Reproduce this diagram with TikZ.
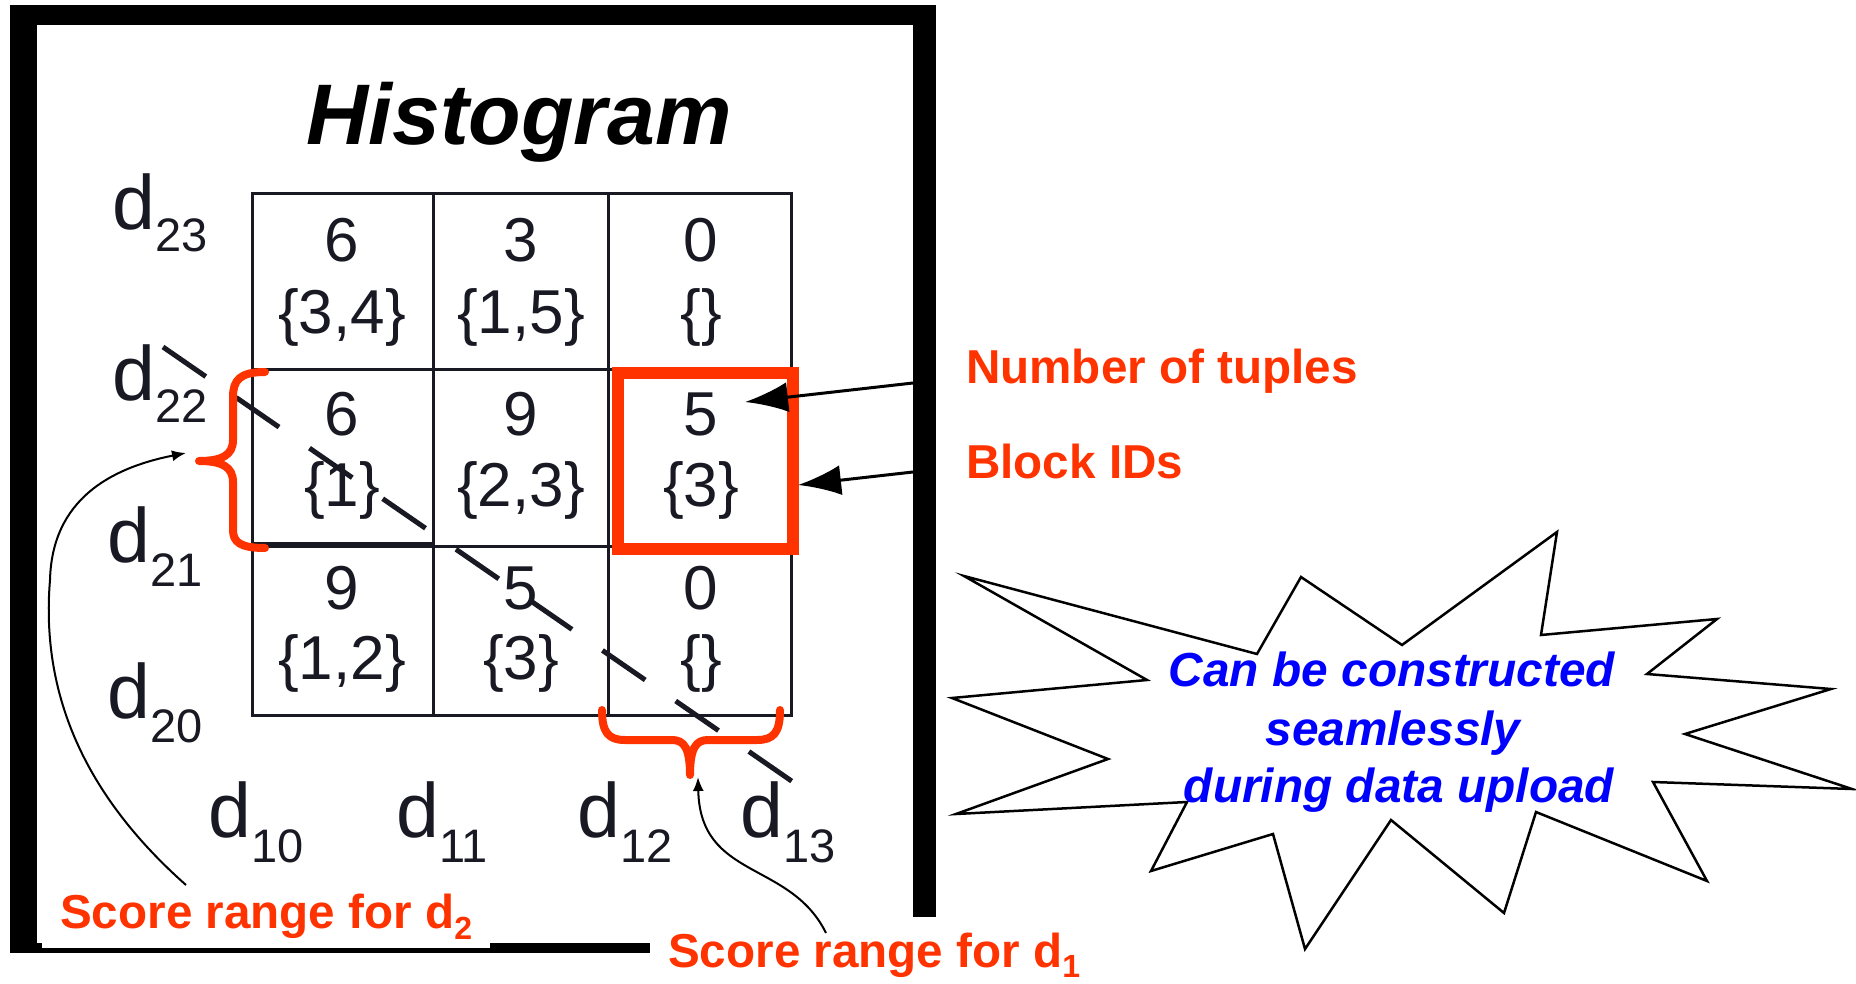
\documentclass[tikz,border=0pt]{standalone}
\usepackage{fontspec}
\setmainfont{Liberation Sans}
\usetikzlibrary{arrows.meta}
\definecolor{hot}{RGB}{255,51,0}
\definecolor{ink}{RGB}{25,25,35}
\definecolor{callblue}{RGB}{0,0,255}
\begin{document}
\begin{tikzpicture}[x=1pt,y=-1pt,
  celltxt/.style={text=ink,inner sep=0pt,font=\fontsize{62}{62}\selectfont},
  axlab/.style={text=ink,inner sep=0pt,anchor=base west,font=\fontsize{77}{77}\selectfont},
  callout/.style={text=hot,inner sep=0pt,anchor=base west,font=\fontsize{47.6}{47.6}\selectfont\bfseries},
  startxt/.style={text=callblue,inner sep=0pt,anchor=base,font=\fontsize{47.8}{47.8}\selectfont\bfseries\itshape},
  gridline/.style={draw=ink,line width=3pt},
  bracepath/.style={draw=hot,line width=8pt,line cap=round,line join=round},
  pointer/.style={draw=black,line width=2pt,-{Latex[length=14pt,width=11pt]}},
  bigpointer/.style={draw=black,line width=3pt,-{Latex[length=43pt,width=30pt]}},
]
\useasboundingbox (0,0) rectangle (1856,984);
\fill[white] (0,0) rectangle (1856,984);
% frame
\fill[black] (10,5) rectangle (936,953);
\fill[white] (37,25) rectangle (913,943);
% white label patches
\fill[white] (42,888) rectangle (490,948);
\fill[white] (650,917) rectangle (1110,984);

% title
\node[anchor=base,inner sep=0pt,font=\fontsize{86}{86}\selectfont\bfseries\itshape] (title) at (519,145) {Histogram};

% grid
\draw[gridline] (252,194) rectangle (791,715);
\draw[gridline] (433,194) -- (433,715);
\draw[gridline] (608,194) -- (608,715);
\draw[gridline] (252,370) -- (791,370);
\draw[gridline] (252,546) -- (791,546);
\draw[draw=ink,line width=6pt] (252,545) -- (433,545);

% cell contents
\node[celltxt] (n11) at (342,240) {6};
\node[celltxt] (s11) at (342,317) {\{3,4\}};
\node[celltxt] (n12) at (521,240) {3};
\node[celltxt] (s12) at (521,317) {\{1,5\}};
\node[celltxt] (n13) at (701,240) {0};
\node[celltxt] (s13) at (701,317) {\{\}};
\node[celltxt] (n21) at (342,414) {6};
\node[celltxt] (s21) at (342,490) {\{1\}};
\node[celltxt] (n22) at (521,414) {9};
\node[celltxt] (s22) at (521,490) {\{2,3\}};
\node[celltxt] (n23) at (701,414) {5};
\node[celltxt] (s23) at (701,490) {\{3\}};
\node[celltxt] (n31) at (342,588) {9};
\node[celltxt] (s31) at (342,663) {\{1,2\}};
\node[celltxt] (n32) at (521,588) {5};
\node[celltxt] (s32) at (521,663) {\{3\}};
\node[celltxt] (n33) at (701,588) {0};
\node[celltxt] (s33) at (701,663) {\{\}};

% axis labels
\node[axlab] (d23) at (112,230) {d\raisebox{-22pt}{\fontsize{47}{47}\selectfont 23}};
\node[axlab] (d22) at (112,400) {d\raisebox{-22pt}{\fontsize{47}{47}\selectfont 22}};
\node[axlab] (d21) at (107,562) {d\raisebox{-24pt}{\fontsize{47}{47}\selectfont 21}};
\node[axlab] (d20) at (107,718) {d\raisebox{-24pt}{\fontsize{47}{47}\selectfont 20}};
\node[axlab] (d10) at (208,837) {d\raisebox{-25pt}{\fontsize{47}{47}\selectfont 10}};
\node[axlab] (d11) at (396,837) {d\raisebox{-25pt}{\fontsize{47}{47}\selectfont 11}};
\node[axlab] (d12) at (577,837) {d\raisebox{-25pt}{\fontsize{47}{47}\selectfont 12}};
\node[axlab] (d13) at (740,837) {d\raisebox{-25pt}{\fontsize{47}{47}\selectfont 13}};

% dashed diagonal
\coordinate (diagA) at (163,347);
\coordinate (diagB) at (793,782);
\draw[draw=ink,line width=5pt,dash pattern=on 52pt off 37pt] (diagA) -- (diagB);

% highlighted cell
\draw[hot,line width=12pt] (618,373) rectangle (793,549);

% braces
\coordinate (lbtipb) at (199,461);
\draw[bracepath] (265,372) .. controls (240,372) and (233,380) .. (233,397) -- (233,440)
  .. controls (233,455) and (222,461) .. (lbtipb)
  .. controls (222,461) and (233,467) .. (233,482) -- (233,530)
  .. controls (233,542) and (240,548) .. (265,548);
\coordinate (bbtipb) at (690,775);
\draw[bracepath] (602,710) .. controls (602,732) and (608,740) .. (625,740) -- (672,740)
  .. controls (684,740) and (690,748) .. (bbtipb)
  .. controls (690,748) and (696,740) .. (708,740) -- (757,740)
  .. controls (774,740) and (780,732) .. (780,710);

% curved pointers
\coordinate (lbstart) at (186,885);
\coordinate (lbtip) at (186,453);
\draw[pointer] (lbstart) .. controls (90,800) and (40,700) .. (50,580)
  .. controls (52,500) and (110,468) .. (lbtip);
\coordinate (bbstart) at (826,933);
\coordinate (bbtip) at (698,777);
\draw[pointer] (bbstart) .. controls (790,860) and (700,880) .. (bbtip);

% straight pointers into the cell
\coordinate (ntupstart) at (913,383);
\coordinate (ntuptip) at (745,402);
\coordinate (bidstart) at (913,472);
\coordinate (bidtip) at (798,485);
\draw[bigpointer] (ntupstart) -- (ntuptip);
\draw[bigpointer] (bidstart) -- (bidtip);

% callout labels
\node[callout] (ntup) at (966,383) {Number of tuples};
\node[callout] (bids) at (966,478) {Block IDs};
\node[callout] (sr2) at (60,928) {Score range for d\raisebox{-11pt}{\fontsize{32}{32}\selectfont 2}};
\node[callout] (sr1) at (668,967) {Score range for d\raisebox{-10pt}{\fontsize{32}{32}\selectfont 1}};

% star burst
\draw[black,line width=2.5pt,fill=white,line join=miter]
  (964,576) -- (1257,654) -- (1301,577) -- (1402,645) -- (1557,532) -- (1541,635)
  -- (1717,619) -- (1647,674) -- (1831,689) -- (1685,734) -- (1852,789) -- (1653,782)
  -- (1707,881) -- (1536,812) -- (1504,913) -- (1391,820) -- (1305,949) -- (1273,834)
  -- (1151,871) -- (1187,802) -- (956,814) -- (1108,759) -- (952,698) -- (1147,680) -- cycle;
\node[startxt] (st1) at (1392,686) {Can be constructed};
\node[startxt] (st2) at (1393,745) {seamlessly};
\node[startxt] (st3) at (1399,802) {during data upload};
\end{tikzpicture}
\end{document}
